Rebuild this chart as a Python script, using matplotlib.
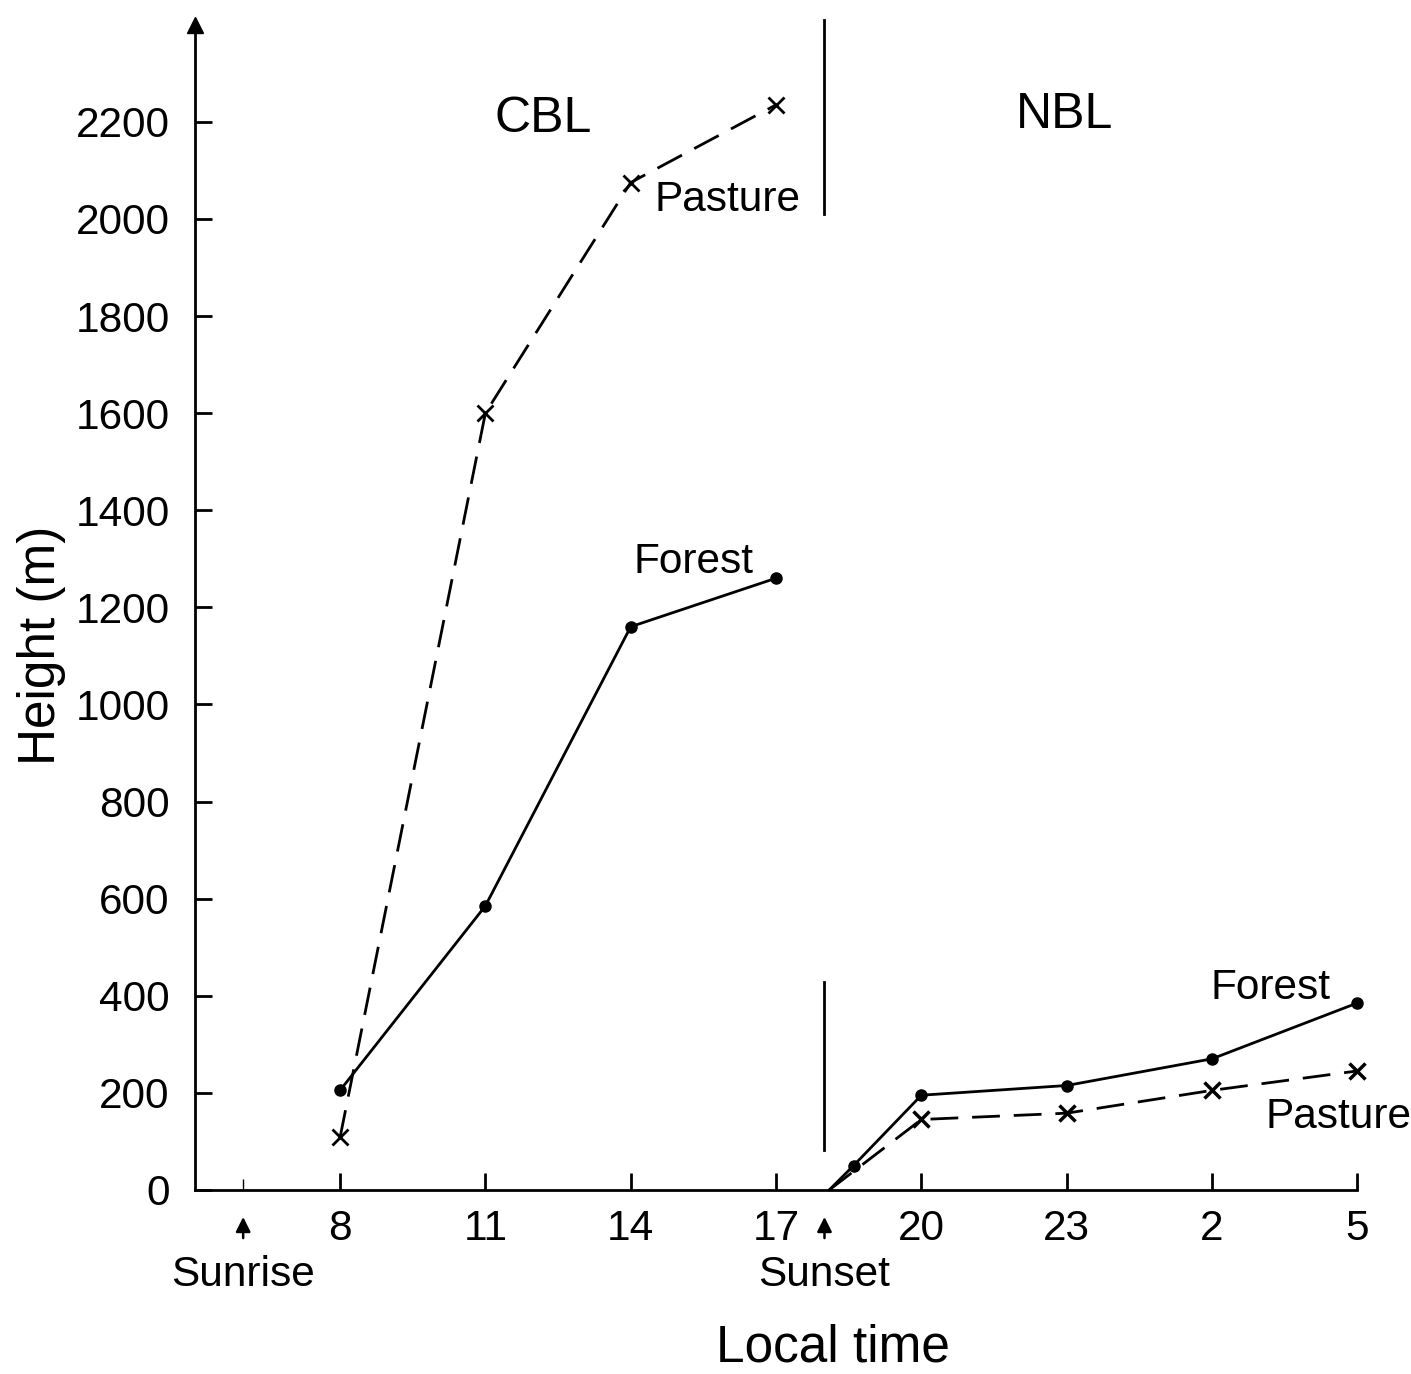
#Boundary layer height over forest and pasture, day (CBL) and night (NBL)
import matplotlib
matplotlib.use("Agg")
import matplotlib.pyplot as plt

plt.rcParams['font.family'] = ['Liberation Sans', 'DejaVu Sans']

#local time in hours, the night hours run on past 24 (2 -> 26, 5 -> 29)
cbl_time = [8, 11, 14, 17]
cbl_forest = [205, 585, 1160, 1260]
cbl_pasture = [108, 1600, 2075, 2235]

nbl_time_forest = [18.1, 18.6, 20, 23, 26, 29]
nbl_forest = [0, 50, 195, 215, 270, 385]
nbl_time_pasture = [18.1, 20, 23, 26, 29]
nbl_pasture = [0, 145, 158, 205, 245]

tick_pos = [8, 11, 14, 17, 20, 23, 26, 29]
tick_lab = ['8', '11', '14', '17', '20', '23', '2', '5']
y_ticks = [0, 200, 400, 600, 800, 1000, 1200, 1400, 1600, 1800, 2000, 2200]

sunrise = 6
sunset = 18

fig = plt.figure(figsize=(14.11, 13.74), dpi=100)
ax = fig.add_axes([0.138, 0.134, 0.824, 0.848])

lw = 2.0
fs = 30.5

#daytime curves
ax.plot(cbl_time, cbl_forest, '-', color='black', lw=lw, marker='o', ms=8,
        clip_on=False)
ax.plot(cbl_time, cbl_pasture, color='black', lw=lw, dashes=(10, 5),
        marker='x', ms=11, mew=2, clip_on=False)

#night curves
ax.plot(nbl_time_forest, nbl_forest, '-', color='black', lw=lw, marker='o', ms=8,
        markevery=[1, 2, 3, 4, 5], clip_on=False)
ax.plot(nbl_time_pasture, nbl_pasture, color='black', lw=lw, dashes=(10, 5),
        marker='x', ms=11, mew=2.5, markevery=[1, 2, 3, 4], clip_on=False)

#CBL / NBL separators
ax.plot([sunset, sunset], [2010, 2410], color='black', lw=lw, clip_on=False)
ax.plot([sunset, sunset], [82, 428], color='black', lw=lw)

ax.text(12.2, 2205, 'CBL', fontsize=36, ha='center', va='center')
ax.text(22.95, 2215, 'NBL', fontsize=36, ha='center', va='center')
ax.text(16.0, 2040, 'Pasture', fontsize=fs, ha='center', va='center')
ax.text(15.3, 1293, 'Forest', fontsize=fs, ha='center', va='center')
ax.text(27.2, 416, 'Forest', fontsize=fs, ha='center', va='center')
ax.text(28.6, 150, 'Pasture', fontsize=fs, ha='center', va='center')

ax.set_xlim(5, 29)
ax.set_ylim(0, 2400)
ax.spines['top'].set_visible(False)
ax.spines['right'].set_visible(False)
for s in ['left', 'bottom']:
    ax.spines[s].set_linewidth(lw)

ax.set_xticks(tick_pos)
ax.set_xticklabels(tick_lab)
ax.set_xticks([sunrise], minor=True)
ax.set_yticks(y_ticks)
ax.tick_params(direction='in', length=12, width=lw, labelsize=fs)
ax.tick_params(axis='x', which='minor', direction='in', length=8, width=1)
ax.tick_params(axis='x', pad=14)
ax.tick_params(axis='y', pad=18)

#arrow on top of the height axis
ax.plot([5], [2400], marker='^', color='black', ms=12, clip_on=False)

#sunrise and sunset arrows under the axis
for t, name in [(sunrise, 'Sunrise'), (sunset, 'Sunset')]:
    ax.annotate('', xy=(t, -50), xytext=(t, -105), xycoords='data',
                arrowprops=dict(arrowstyle='-|>', color='black', lw=1.8,
                                mutation_scale=22),
                annotation_clip=False)
    ax.text(t, -175, name, fontsize=fs, ha='center', va='center')

fig.text(42 / 1411, 1 - 645 / 1374, 'Height (m)', fontsize=37,
         rotation=90, ha='center', va='center')
fig.text(833 / 1411, 1 - 1348 / 1374, 'Local time', fontsize=37,
         ha='center', va='center')

fig.savefig('out.png', dpi=100)
